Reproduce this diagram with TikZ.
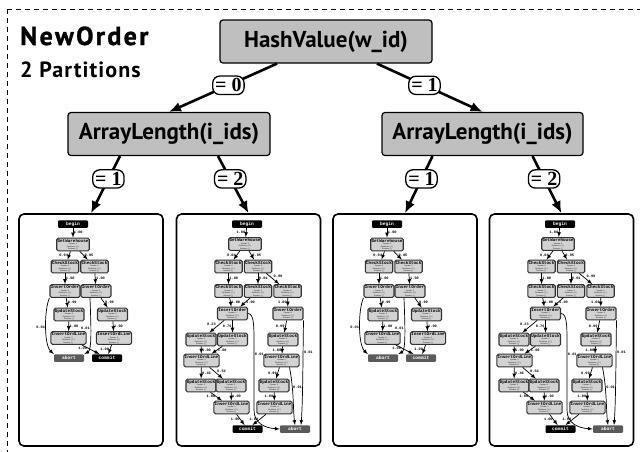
\documentclass[tikz,border=0pt]{standalone}
\usepackage{fontspec}
\setmainfont{PT Sans}
\setmonofont{Liberation Mono}
\newfontfamily\lblfont{Liberation Serif}
\newfontfamily\headfont[LetterSpace=9,BoldFeatures={FakeBold=1.2}]{PT Sans}
\usetikzlibrary{positioning,arrows.meta}
\definecolor{boxgray}{HTML}{BFBFBF}
\definecolor{stategray}{HTML}{D2D2D2}
\definecolor{endgray}{HTML}{5A5A5A}
\tikzset{
  split/.style={draw,line width=1.2pt,fill=boxgray,rounded corners=3pt,minimum height=43pt,
    font=\fontsize{23}{26}\selectfont\bfseries},
  cond/.style={draw,fill=white,line width=1.3pt,rounded corners=7pt,inner xsep=2.5pt,inner ysep=2.5pt,
    font=\lblfont\fontsize{20}{20}\selectfont\bfseries},
  big/.style={-{Latex[length=12pt,width=10pt]},line width=2.6pt},
  panel/.style={draw,line width=1.6pt,rounded corners=5pt,minimum width=144pt,minimum height=232pt},
  vtx/.style={draw=black!80,line width=1.1pt,fill=stategray,rounded corners=1.5pt,inner sep=0.8pt,
    align=center,font=\fontsize{1.9}{2.5}\selectfont},
  term/.style={fill=#1,text=white,rounded corners=1pt,minimum width=30pt,minimum height=7.5pt,
    inner sep=0pt,font=\ttfamily\bfseries\fontsize{4.6}{5}\selectfont},
  medge/.style={->,line width=0.7pt},
  prob/.style={font=\ttfamily\bfseries\fontsize{3.6}{4}\selectfont,inner sep=0.6pt},
}
\newcommand\vtxtext[1]{{\ttfamily\bfseries\fontsize{4.3}{5}\selectfont #1}\\Counter: 0\\Partitions: [ 0 ]\\Previous: [ ]}
\begin{document}
\begin{tikzpicture}[>=latex,x=1pt,y=-1pt]
\useasboundingbox (0,0) rectangle (640,451);
\draw[line width=1pt,dash pattern=on 5pt off 4pt] (7,9) rectangle (700,520);

\node[anchor=base west,inner sep=0pt,font=\headfont\bfseries\fontsize{26}{28}\selectfont] (title) at (20,45) {NewOrder};
\node[anchor=base west,inner sep=0pt,font=\fontsize{22}{24}\selectfont\bfseries\addfontfeatures{LetterSpace=5}] (parts) at (20,77) {2 Partitions};

\node[split,minimum width=212pt] (hash) at (326,41.5) {HashValue(w\_id)};
\node[split,minimum width=202pt] (lenA) at (169,134) {ArrayLength(i\_ids)};
\node[split,minimum width=201pt] (lenB) at (482.5,134) {ArrayLength(i\_ids)};

\node[panel] (pa) at (91,330) {};
\node[panel] (pb) at (248.5,330) {};
\node[panel] (pc) at (405,330) {};
\node[panel] (pd) at (561.5,330) {};

\draw[big] ([xshift=-49pt]hash.south) -- (lenA.north) node[cond,pos=0.45]{= 0};
\draw[big] ([xshift=51pt]hash.south) -- (lenB.north) node[cond,pos=0.45]{= 1};
\draw[big] ([xshift=-49pt]lenA.south) -- (pa.north) node[cond,pos=0.4]{= 1};
\draw[big] ([xshift=49pt]lenA.south) -- (pb.north) node[cond,pos=0.4]{= 2};
\draw[big] ([xshift=-50pt]lenB.south) -- (pc.north) node[cond,pos=0.4]{= 1};
\draw[big] ([xshift=50pt]lenB.south) -- (pd.north) node[cond,pos=0.4]{= 2};

% one item
\foreach \dx/\p/\cc in {0/a/black,314/c/endgray}
{
\begin{scope}[xshift=\dx]
\node[term=black] (begin\p) at (73,224) {begin};
\node[vtx] (gw\p) at (73,244.5) {\vtxtext{GetWarehouse}};
\node[vtx] (csL\p) at (65,266.5) {\vtxtext{CheckStock}};
\node[vtx] (csR\p) at (94.5,266.5) {\vtxtext{CheckStock}};
\node[vtx] (ioL\p) at (65,291) {\vtxtext{InsertOrder}};
\node[vtx] (ioR\p) at (96,291) {\vtxtext{InsertOrder}};
\node[vtx] (usL\p) at (69,314.5) {\vtxtext{UpdateStock}};
\node[vtx] (usR\p) at (112.5,314.5) {\vtxtext{UpdateStock}};
\node[vtx] (olL\p) at (68.5,338) {\vtxtext{InsertOrdLine}};
\node[vtx] (olR\p) at (114,338) {\vtxtext{InsertOrdLine}};
\node[term=endgray] (abort\p) at (69,358) {abort};
\node[term=\cc] (commit\p) at (107,358) {commit};

\draw[medge] (begin\p) -- (gw\p) node[prob,midway,right]{1.00};
\draw[medge] (gw\p) -- (csL\p) node[prob,midway,left]{0.94};
\draw[medge] (gw\p) -- (csR\p) node[prob,midway,right]{0.05};
\draw[medge] (csL\p) -- (ioL\p) node[prob,midway,right]{1.00};
\draw[medge] (csR\p) -- (ioR\p) node[prob,midway,right]{1.00};
\draw[medge] (ioL\p) -- (usL\p) node[prob,midway,right]{0.99};
\draw[medge] (ioR\p) -- (usR\p) node[prob,midway,right]{0.99};
\draw[medge] (usL\p) -- (olL\p) node[prob,midway,right]{1.00};
\draw[medge] (usR\p) -- (olR\p) node[prob,midway,right]{1.00};
\draw[medge] (olL\p) -- (commit\p) node[prob,pos=0.35,left]{1.00};
\draw[medge] (olR\p) -- (commit\p) node[prob,midway,left]{1.00};
\draw[medge] (ioL\p.south west) .. controls (44,310) and (44,345) .. (abort\p.north west)
  node[prob,pos=0.5,left]{0.01};
\draw[medge] ([xshift=-6pt]ioR\p.south) .. controls (91,325) and (92,350) .. (abort\p.north east)
  node[prob,pos=0.4,left]{0.01};
\end{scope}
}

% two items
\foreach \dx/\p in {0/b,313/d}
{
\begin{scope}[xshift=\dx]
\node[term=black] (begin\p) at (247,224) {begin};
\node[vtx] (gw\p) at (245,244) {\vtxtext{GetWarehouse}};
\node[vtx] (csA\p) at (228.5,266.5) {\vtxtext{CheckStock}};
\node[vtx] (csB\p) at (258,266.5) {\vtxtext{CheckStock}};
\node[vtx] (csC\p) at (228.5,291) {\vtxtext{CheckStock}};
\node[vtx] (csD\p) at (258,291) {\vtxtext{CheckStock}};
\node[vtx] (csE\p) at (287.5,291) {\vtxtext{CheckStock}};
\node[vtx] (ioL\p) at (232.5,313.5) {\vtxtext{InsertOrder}};
\node[vtx] (ioR\p) at (288,313.5) {\vtxtext{InsertOrder}};
\node[vtx] (usA\p) at (201,339.5) {\vtxtext{UpdateStock}};
\node[vtx] (usB\p) at (232.5,339.5) {\vtxtext{UpdateStock}};
\node[vtx] (usC\p) at (283,339.5) {\vtxtext{UpdateStock}};
\node[vtx] (olA\p) at (201.5,360.5) {\vtxtext{InsertOrdLine}};
\node[vtx] (olB\p) at (281.5,360.5) {\vtxtext{InsertOrdLine}};
\node[vtx] (usD\p) at (201,385.5) {\vtxtext{UpdateStock}};
\node[vtx] (usE\p) at (231,385.5) {\vtxtext{UpdateStock}};
\node[vtx] (usF\p) at (274,385.5) {\vtxtext{UpdateStock}};
\node[vtx] (olC\p) at (231.5,407.5) {\vtxtext{InsertOrdLine}};
\node[vtx] (olD\p) at (274.5,407.5) {\vtxtext{InsertOrdLine}};
\node[term=black] (commit\p) at (247.5,429) {commit};
\node[term=endgray] (abort\p) at (295,429) {abort};

\draw[medge] (begin\p) -- (gw\p) node[prob,midway,left]{1.00};
\draw[medge] (gw\p) -- (csA\p) node[prob,midway,left]{0.04};
\draw[medge] (gw\p) -- (csB\p) node[prob,midway,right]{0.95};
\draw[medge] (csA\p) -- (csC\p) node[prob,midway,right]{1.00};
\draw[medge] (csB\p) -- (csD\p) node[prob,midway,right]{0.01};
\draw[medge] (csB\p) -- (csE\p) node[prob,midway,above right]{0.99};
\draw[medge] (csC\p) -- (ioL\p) node[prob,midway,right]{1.00};
\draw[medge] (csD\p) -- (ioL\p) node[prob,midway,right]{1.00};
\draw[medge] (csE\p) -- (ioR\p) node[prob,midway,left]{1.00};
\draw[medge] (ioL\p) -- (usA\p) node[prob,midway,above left]{0.23};
\draw[medge] (ioL\p) -- (usB\p) node[prob,midway,left]{0.76};
\draw[medge] (ioR\p) -- (usC\p) node[prob,midway,left]{0.99};
\draw[medge] (usA\p) -- (olA\p) node[prob,midway,right]{1.00};
\draw[medge] (usB\p) -- (olA\p) node[prob,midway,right]{1.00};
\draw[medge] (usC\p) -- (olB\p) node[prob,midway,left]{1.00};
\draw[medge] (olA\p) -- (usD\p) node[prob,midway,right]{0.46};
\draw[medge] (olA\p) -- (usE\p) node[prob,midway,above right]{0.54};
\draw[medge] (olB\p) -- (usF\p) node[prob,midway,left]{0.99};
\draw[medge] (usD\p) -- (olC\p) node[prob,midway,left]{1.00};
\draw[medge] (usE\p) -- (olC\p) node[prob,midway,right]{1.00};
\draw[medge] (usF\p) -- (olD\p) node[prob,midway,left]{1.00};
\draw[medge] (olC\p) -- (commit\p) node[prob,midway,left]{1.00};
\draw[medge] (olD\p) -- (commit\p) node[prob,midway,left]{1.00};
\draw[medge] (ioL\p.east) .. controls (254,314) and (254,325) .. (254,345)
  -- node[prob,right,pos=0.15]{0.01} (254,410) .. controls (254,424) and (266,428) .. (abort\p.west);
\draw[medge] (ioR\p.south east) .. controls (303,340) and (303,400) .. ([xshift=6pt]abort\p.north)
  node[prob,pos=0.35,right]{0.01};
\draw[medge] ([xshift=8pt]olB\p.south) .. controls (294,390) and (293,410) .. (abort\p.north)
  node[prob,pos=0.3,right]{0.01};
\end{scope}
}
\end{tikzpicture}
\end{document}
